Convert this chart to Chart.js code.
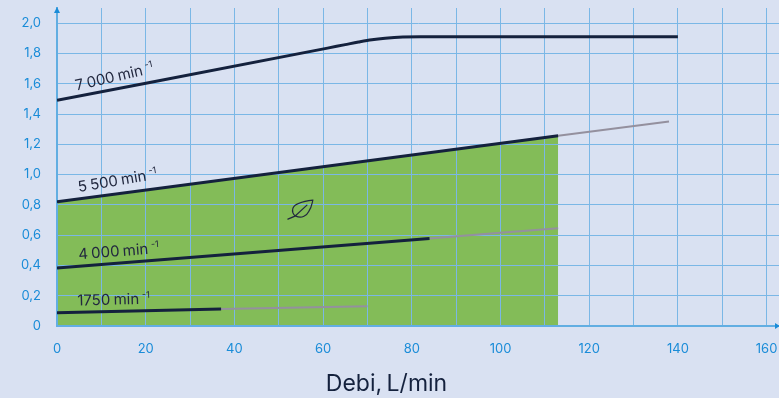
<!DOCTYPE html>
<html>
<head>
<meta charset="utf-8">
<title>Debi</title>
<script src="https://cdn.jsdelivr.net/npm/chart.js@4"></script>
<style>
  html, body { margin: 0; padding: 0; background: #d9e1f2; }
  canvas { display: block; }
</style>
</head>
<body>
<canvas id="flowChart" width="779" height="398"></canvas>
<script>
// flow (L/min) and y values
const flow7000 = [0, 61, 65, 68, 71, 74, 78, 82, 140];
const value7000 = [1.49, 1.835, 1.858, 1.875, 1.89, 1.9, 1.908, 1.91, 1.91];

const flow5500 = [0, 113];
const value5500 = [0.82, 1.256];
const flow5500Ext = [113, 138];
const value5500Ext = [1.256, 1.35];

const flow4000 = [0, 84];
const value4000 = [0.383, 0.578];
const flow4000Ext = [84, 113];
const value4000Ext = [0.578, 0.646];

const flow1750 = [0, 37];
const value1750 = [0.088, 0.112];
const flow1750Ext = [37, 70];
const value1750Ext = [0.112, 0.13];

const xTickLabels = [0, 20, 40, 60, 80, 100, 120, 140, 160];
const yTickLabels = ["0", "0,2", "0,4", "0,6", "0,8", "1,0", "1,2", "1,4", "1,6", "1,8", "2,0"];
const speedLabels = ["7 000 min", "5 500 min", "4 000 min", "1750 min"];
const speedExponent = "-1";
const xTitle = "Debi, L/min";

const DARK = "#14213d";
const GREY = "#94909e";
const GREEN = "#83bc58";
const GRID = "#7ab7e6";
const AXIS = "#62aee2";
const TICK = "#1a8cd8";
const FONT = "Inter, 'Liberation Sans', sans-serif";

// where each speed label sits, in data units, and its slant in degrees
const speedLabelSpots = [
  { x: 4.4, y: 1.555, angle: -13 },
  { x: 4.9, y: 0.885, angle: -9.5 },
  { x: 4.9, y: 0.44, angle: -4.5 },
  { x: 4.6, y: 0.135, angle: -1.5 },
];

function toPoints(xs, ys) {
  return xs.map((x, i) => ({ x, y: ys[i] }));
}

function lineDataset(xs, ys, color, width, extra) {
  return Object.assign(
    {
      data: toPoints(xs, ys),
      borderColor: color,
      borderWidth: width,
      pointRadius: 0,
      fill: false,
      cubicInterpolationMode: "monotone",
    },
    extra
  );
}

// keep the plot area where it is in the picture, whatever the labels want
function fixBox(scale, size) {
  if (scale.isHorizontal()) scale.height = size;
  else scale.width = size;
  scale.paddingLeft = scale.paddingRight = scale.paddingTop = scale.paddingBottom = 0;
}

const speedLabelPlugin = {
  id: "speedLabels",
  afterDatasetsDraw(chart) {
    const { ctx, scales } = chart;
    speedLabels.forEach((label, i) => {
      const spot = speedLabelSpots[i];
      ctx.save();
      ctx.translate(scales.x.getPixelForValue(spot.x), scales.y.getPixelForValue(spot.y));
      ctx.rotate((spot.angle * Math.PI) / 180);
      ctx.fillStyle = "#22283f";
      ctx.textBaseline = "alphabetic";
      ctx.font = "15px " + FONT;
      ctx.wordSpacing = "-1px";
      ctx.fillText(label, 0, 0);
      const w = ctx.measureText(label).width;
      ctx.font = "9px " + FONT;
      ctx.fillText(speedExponent, w + 3, -6);
      ctx.restore();
    });
  },
};

const leafPlugin = {
  id: "leaf",
  afterDatasetsDraw(chart) {
    const { ctx, scales } = chart;
    ctx.save();
    ctx.translate(scales.x.getPixelForValue(55), scales.y.getPixelForValue(0.765));
    ctx.strokeStyle = "#22283f";
    ctx.lineWidth = 1.2;
    ctx.lineCap = "round";
    ctx.beginPath();
    ctx.moveTo(12, -10);
    ctx.bezierCurveTo(4, -9, -6, -7, -8, -2);
    ctx.bezierCurveTo(-9, 1, -8, 5, -5, 6);
    ctx.bezierCurveTo(1, 9, 6, 5, 8, 1);
    ctx.bezierCurveTo(11, -3, 11, -7, 12, -10);
    ctx.moveTo(-13, 9);
    ctx.lineTo(-6, 6);
    ctx.lineTo(6, -5);
    ctx.stroke();
    ctx.restore();
  },
};

const arrowPlugin = {
  id: "axisArrows",
  afterDraw(chart) {
    const { ctx, chartArea, scales } = chart;
    ctx.save();
    ctx.fillStyle = TICK;
    ctx.beginPath();
    ctx.moveTo(chartArea.left, chartArea.top - 1);
    ctx.lineTo(chartArea.left - 3, chartArea.top + 5);
    ctx.lineTo(chartArea.left + 3, chartArea.top + 5);
    ctx.fill();
    ctx.beginPath();
    ctx.moveTo(chartArea.right + 1, chartArea.bottom);
    ctx.lineTo(chartArea.right - 4, chartArea.bottom - 3);
    ctx.lineTo(chartArea.right - 4, chartArea.bottom + 3);
    ctx.fill();
    ctx.fillStyle = DARK;
    ctx.font = "23px " + FONT;
    ctx.textAlign = "center";
    ctx.textBaseline = "middle";
    ctx.wordSpacing = "-2px";
    ctx.fillText(xTitle, scales.x.getPixelForValue(74.3), 384);
    ctx.restore();
  },
};

new Chart(document.getElementById("flowChart").getContext("2d"), {
  type: "line",
  data: {
    datasets: [
      lineDataset(flow5500, value5500, DARK, 3, { fill: "origin", backgroundColor: GREEN }),
      lineDataset(flow5500Ext, value5500Ext, GREY, 2),
      lineDataset(flow7000, value7000, DARK, 3),
      lineDataset(flow4000, value4000, DARK, 3),
      lineDataset(flow4000Ext, value4000Ext, GREY, 2),
      lineDataset(flow1750, value1750, DARK, 3),
      lineDataset(flow1750Ext, value1750Ext, GREY, 2),
    ],
  },
  options: {
    responsive: false,
    animation: false,
    layout: { padding: { top: 8, left: 0, right: 0, bottom: 0 } },
    plugins: {
      legend: { display: false },
      tooltip: { enabled: false },
      // fill goes under the grid, the lines stay over it
      filler: { drawTime: "beforeDraw" },
    },
    scales: {
      x: {
        type: "linear",
        min: 0,
        max: 162.8,
        afterFit: (scale) => fixBox(scale, 72),
        grid: { color: GRID, lineWidth: 1, drawTicks: false },
        border: { color: AXIS, width: 2 },
        ticks: {
          stepSize: 10,
          includeBounds: false,
          autoSkip: false,
          maxRotation: 0,
          padding: 15,
          color: TICK,
          font: { family: FONT, size: 13 },
          callback: (v) => (xTickLabels.includes(v) ? String(v) : ""),
        },
      },
      y: {
        min: 0,
        max: 2.1,
        afterFit: (scale) => fixBox(scale, 57),
        grid: { color: GRID, lineWidth: 1, drawTicks: false },
        border: { color: AXIS, width: 2 },
        ticks: {
          stepSize: 0.2,
          includeBounds: false,
          autoSkip: false,
          padding: 16,
          color: TICK,
          font: { family: FONT, size: 13 },
          callback: (v) => yTickLabels[Math.round(v / 0.2)],
        },
      },
    },
  },
  plugins: [speedLabelPlugin, leafPlugin, arrowPlugin],
});
</script>
</body>
</html>
